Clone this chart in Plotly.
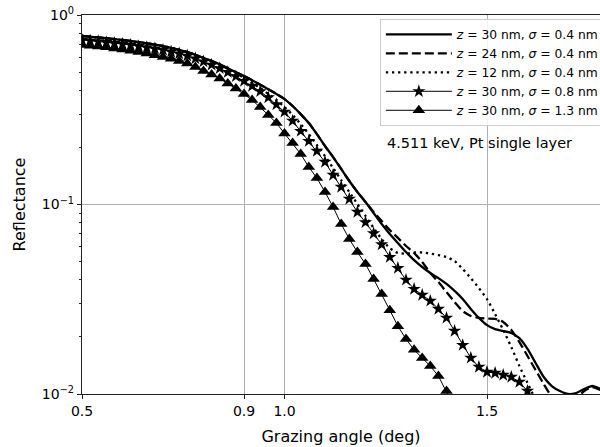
import plotly.graph_objects as go

# Grazing angle samples (deg)
angle = [0.50, 0.52, 0.54, 0.56, 0.58, 0.60, 0.62, 0.64, 0.66, 0.68,
         0.70, 0.72, 0.74, 0.76, 0.78, 0.80, 0.82, 0.84, 0.86, 0.88,
         0.90, 0.92, 0.94, 0.96, 0.98, 1.00, 1.02, 1.04, 1.06, 1.08,
         1.10, 1.12, 1.14, 1.16, 1.18, 1.20, 1.22, 1.24, 1.26, 1.28,
         1.30, 1.32, 1.34, 1.36, 1.38, 1.40, 1.42, 1.44, 1.46, 1.48,
         1.50, 1.52, 1.54, 1.56, 1.58, 1.60, 1.62, 1.64, 1.66, 1.68,
         1.70, 1.72, 1.74, 1.76, 1.78]

# z = 30 nm, sigma = 0.4 nm
r_z30_s04 = [0.775, 0.768, 0.762, 0.754, 0.746, 0.738, 0.729, 0.719, 0.709, 0.698,
             0.686, 0.671, 0.655, 0.637, 0.616, 0.593, 0.572, 0.549, 0.523, 0.499,
             0.476, 0.453, 0.429, 0.406, 0.383, 0.360, 0.331, 0.300, 0.269, 0.235,
             0.2035, 0.178, 0.154, 0.133, 0.1164, 0.1031, 0.0902, 0.0789, 0.0699, 0.0626,
             0.0561, 0.0509, 0.0468, 0.0435, 0.0409, 0.0381, 0.0350, 0.0317, 0.0281, 0.0252,
             0.0231, 0.0220, 0.0215, 0.0210, 0.0197, 0.0173, 0.01457, 0.01229, 0.01102, 0.01037,
             0.0100, 0.01012, 0.01062, 0.01102, 0.01062]

# z = 24 nm, sigma = 0.4 nm
r_z24_s04 = [0.775, 0.768, 0.762, 0.754, 0.746, 0.738, 0.729, 0.719, 0.709, 0.698,
             0.686, 0.671, 0.655, 0.637, 0.616, 0.593, 0.572, 0.549, 0.523, 0.499,
             0.476, 0.453, 0.429, 0.406, 0.383, 0.360, 0.331, 0.300, 0.269, 0.235,
             0.2035, 0.178, 0.154, 0.133, 0.1164, 0.1031, 0.0913, 0.0818, 0.0733, 0.0666,
             0.0604, 0.0555, 0.0497, 0.0435, 0.0390, 0.0345, 0.0306, 0.0274, 0.0258, 0.0252,
             0.0250, 0.0249, 0.0240, 0.0218, 0.0188, 0.01587, 0.01338, 0.01129, 0.00964, 0.00875,
             0.00865, 0.00941, 0.01037, 0.01089, 0.01050]

# z = 12 nm, sigma = 0.4 nm
r_z12_s04 = [0.775, 0.768, 0.762, 0.754, 0.746, 0.738, 0.729, 0.719, 0.709, 0.698,
             0.686, 0.671, 0.655, 0.637, 0.616, 0.593, 0.572, 0.549, 0.520, 0.494,
             0.465, 0.438, 0.412, 0.383, 0.356, 0.327, 0.297, 0.266, 0.235, 0.206,
             0.180, 0.1558, 0.1346, 0.1164, 0.1006, 0.0870, 0.0752, 0.0657, 0.0589, 0.0555,
             0.0551, 0.0558, 0.0558, 0.0551, 0.0541, 0.0528, 0.0503, 0.0457, 0.0409, 0.0362,
             0.0317, 0.0264, 0.0218, 0.0177, 0.01405, 0.01143, 0.00930, 0.00729]

# z = 30 nm, sigma = 0.8 nm
r_z30_s08 = [0.738, 0.732, 0.726, 0.718, 0.711, 0.703, 0.695, 0.685, 0.675, 0.665,
             0.654, 0.640, 0.626, 0.609, 0.589, 0.568, 0.546, 0.523, 0.499, 0.474,
             0.448, 0.422, 0.395, 0.367, 0.337, 0.308, 0.276, 0.244, 0.216, 0.1915,
             0.1676, 0.1431, 0.1237, 0.1069, 0.0913, 0.0804, 0.0703, 0.0615, 0.0528, 0.0462,
             0.0400, 0.0358, 0.0333, 0.0310, 0.0281, 0.0252, 0.0215, 0.0181, 0.0155, 0.01388,
             0.01306, 0.01291, 0.01260, 0.01229, 0.01157, 0.01037, 0.00897]

# z = 30 nm, sigma = 1.3 nm
r_z30_s13 = [0.695, 0.689, 0.682, 0.675, 0.666, 0.658, 0.648, 0.638, 0.626, 0.614,
             0.601, 0.587, 0.571, 0.554, 0.532, 0.506, 0.485, 0.462, 0.435, 0.409,
             0.383, 0.356, 0.327, 0.297, 0.269, 0.237, 0.211, 0.1847, 0.1577, 0.1379,
             0.1164, 0.0970, 0.0789, 0.0657, 0.0561, 0.0485, 0.0404, 0.0337, 0.0277, 0.0228,
             0.0195, 0.0171, 0.0155, 0.01405, 0.01245, 0.01037, 0.00844]

labels = ["<i>z</i> = 30 nm, <i>σ</i> = 0.4 nm",
          "<i>z</i> = 24 nm, <i>σ</i> = 0.4 nm",
          "<i>z</i> = 12 nm, <i>σ</i> = 0.4 nm",
          "<i>z</i> = 30 nm, <i>σ</i> = 0.8 nm",
          "<i>z</i> = 30 nm, <i>σ</i> = 1.3 nm"]

xticks = [0.5, 0.9, 1.0, 1.5]
xticktext = ["0.5", "0.9", "1.0", "1.5"]
yticks = [0.01, 0.1, 1]
yticktext = ["10<sup>−2</sup>", "10<sup>−1</sup>", "10<sup>0</sup>"]
yminor = [0.02, 0.03, 0.04, 0.05, 0.06, 0.07, 0.08, 0.09,
          0.2, 0.3, 0.4, 0.5, 0.6, 0.7, 0.8, 0.9]

FONT = "DejaVu Sans"

fig = go.Figure()
fig.add_trace(go.Scatter(x=angle, y=r_z30_s04, mode="lines", name=labels[0],
                         line=dict(color="black", width=2.3, shape="spline", smoothing=0.6)))
fig.add_trace(go.Scatter(x=angle, y=r_z24_s04, mode="lines", name=labels[1],
                         line=dict(color="black", width=2.3, dash="9px,4px", shape="spline", smoothing=0.6)))
fig.add_trace(go.Scatter(x=angle[:len(r_z12_s04)], y=r_z12_s04, mode="lines", name=labels[2],
                         line=dict(color="black", width=2.3, dash="2.3px,3.8px", shape="spline", smoothing=0.6)))
fig.add_trace(go.Scatter(x=angle[:len(r_z30_s08)], y=r_z30_s08, mode="lines+markers", name=labels[3],
                         line=dict(color="black", width=1),
                         marker=dict(symbol="star", size=10, color="black")))
fig.add_trace(go.Scatter(x=angle[:len(r_z30_s13)], y=r_z30_s13, mode="lines+markers", name=labels[4],
                         line=dict(color="black", width=1),
                         marker=dict(symbol="triangle-up", size=11, color="black")))

fig.add_annotation(x=1.248, y=-0.675, xref="x", yref="y", text="4.511 keV, Pt single layer",
                   showarrow=False, xanchor="left", yanchor="middle",
                   font=dict(family=FONT, size=14.5, color="black"))

fig.update_layout(
    width=600, height=447,
    margin=dict(l=82, r=0, t=15, b=53, autoexpand=False),
    paper_bgcolor="white", plot_bgcolor="white",
    font=dict(family=FONT, size=14, color="black"),
    showlegend=True,
    legend=dict(x=0.575, y=0.99, xanchor="left", yanchor="top",
                bgcolor="rgba(255,255,255,0.85)", bordercolor="#cccccc", borderwidth=1,
                font=dict(family=FONT, size=12.3, color="black"),
                tracegroupgap=0, itemwidth=66),
)
fig.update_xaxes(
    range=[0.5, 1.779], tickvals=xticks, ticktext=xticktext,
    showgrid=True, gridcolor="#b0b0b0", gridwidth=1,
    showline=True, linecolor="#222222", linewidth=1.2, mirror=True,
    ticks="outside", ticklen=4, tickwidth=1, tickcolor="#222222",
    tickfont=dict(family=FONT, size=14), zeroline=False,
    title=dict(text="Grazing angle (deg)", font=dict(family=FONT, size=16), standoff=12),
)
fig.update_yaxes(
    type="log", range=[-2, 0], tickvals=yticks, ticktext=yticktext,
    showgrid=True, gridcolor="#b0b0b0", gridwidth=1,
    showline=True, linecolor="#222222", linewidth=1.2, mirror=False,
    ticks="outside", ticklen=4, tickwidth=1, tickcolor="#222222",
    tickfont=dict(family=FONT, size=14), zeroline=False,
    minor=dict(tickvals=yminor, ticks="outside", ticklen=2, tickwidth=1,
               tickcolor="#222222", showgrid=False),
    title=dict(text="Reflectance", font=dict(family=FONT, size=16), standoff=12),
)

fig.write_html("out.html", config={"displayModeBar": False},
               post_script="document.body.style.margin='0px';")
